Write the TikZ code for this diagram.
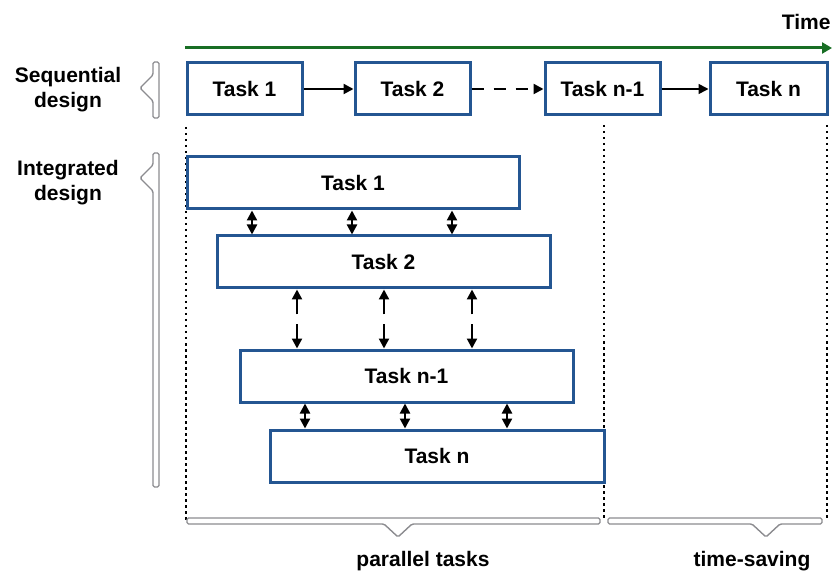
\documentclass[tikz,border=0pt]{standalone}
\usepackage{fontspec}
\setmainfont{Liberation Sans}
\usetikzlibrary{arrows.meta,calc}
\definecolor{boxblue}{RGB}{36,86,146}
\definecolor{timegreen}{RGB}{24,110,36}
\definecolor{brgray}{RGB}{140,140,144}
\begin{document}
\begin{tikzpicture}[x=1pt,y=-1pt,
  every node/.style={font=\fontsize{21}{25}\selectfont\bfseries},
  taskbox/.style={draw=boxblue,line width=3pt,fill=white,minimum height=52pt,inner sep=0pt},
  lbl/.style={align=center},
  arr/.style={line width=2.2pt,-{Triangle[length=10pt,width=10pt]}},
  dblarr/.style={line width=2.2pt,{Triangle[length=10pt,width=10pt]}-{Triangle[length=10pt,width=10pt]}},
  dotline/.style={line width=2.5pt,dash pattern=on 2.5pt off 3.5pt},
  bracket/.style={draw=brgray,line width=1.4pt,fill=white,rounded corners=1.5pt,line join=round}]
\useasboundingbox (0,0) rectangle (836,572);

% time axis
\node[anchor=east] (time) at (834,22) {Time};
\coordinate (t0) at (185,48);
\coordinate (t1) at (832,48);
\draw[line width=3pt,draw=timegreen,-{Triangle[length=10pt,width=11pt]}] (t0) -- (t1);

% labels
\node[lbl] (seq) at (68,90) {Sequential\\design};
\node[lbl] (integ) at (68,183) {Integrated\\design};

% sequential boxes
\node[taskbox,minimum width=115pt] (s1) at (244.5,89) {Task 1};
\node[taskbox,minimum width=115pt] (s2) at (412.5,89) {Task 2};
\node[taskbox,minimum width=115pt] (s3) at (602.5,89) {Task n-1};
\node[taskbox,minimum width=117pt] (s4) at (768.5,89) {Task n};

\draw[arr] (s1.east) -- (s2.west);
\draw[arr,dash pattern=on 12pt off 10pt] (s2.east) -- (s3.west);
\draw[line width=1.6pt,-{Triangle[length=10pt,width=10pt]}] (s3.east) -- (s4.west);

% dotted separators
\coordinate (d1a) at (186,127); \coordinate (d1b) at (186,520);
\coordinate (d2a) at (604,125); \coordinate (d2b) at (604,520);
\coordinate (d3a) at (827,125); \coordinate (d3b) at (827,520);
\draw[dotline] (d1a) -- (d1b);
\draw[dotline] (d2a) -- (d2b);
\draw[dotline] (d3a) -- (d3b);

% integrated boxes
\node[taskbox,minimum width=332pt] (i1) at (353,183) {Task 1};
\node[taskbox,minimum width=333pt] (i2) at (383.5,262) {Task 2};
\node[taskbox,minimum width=333pt] (i3) at (406.5,376) {Task n-1};
\node[taskbox,minimum width=334pt] (i4) at (437,456) {Task n};

% arrows between task 1 and task 2
\foreach \dx in {-101,-1,99}
  \draw[dblarr] ([xshift=\dx pt]i1.south) -- ([xshift=\dx pt]i1.south |- i2.north);

% arrows between task 2 and task n-1
\foreach \dx in {-86.5,0.5,88.5}{
  \draw[arr] ($([xshift=\dx pt]i2.south)+(0,25)$) -- ([xshift=\dx pt]i2.south);
  \draw[arr] ($([xshift=\dx pt]i2.south |- i3.north)+(0,-24)$) -- ([xshift=\dx pt]i2.south |- i3.north);
}

% arrows between task n-1 and task n
\foreach \dx in {-101.5,-1.5,100.5}
  \draw[dblarr] ([xshift=\dx pt]i3.south) -- ([xshift=\dx pt]i3.south |- i4.north);

% brackets
\draw[bracket] (159,62) -- (159,118) -- (153,118) -- (153,101) -- (140,88) -- (153,75) -- (153,62) -- cycle;
\draw[bracket] (159,153) -- (159,487) -- (153,487) -- (153,191) -- (140,178) -- (153,165) -- (153,153) -- cycle;
\draw[bracket] (187,518) -- (600,518) -- (600,524) -- (412,524) -- (398,537) -- (384,524) -- (187,524) -- cycle;
\draw[bracket] (608,518) -- (822,518) -- (822,524) -- (780,524) -- (766,537) -- (752,524) -- (608,524) -- cycle;

\node (par) at (423,561) {parallel tasks};
\node (ts) at (752,561) {time-saving};
\end{tikzpicture}
\end{document}
